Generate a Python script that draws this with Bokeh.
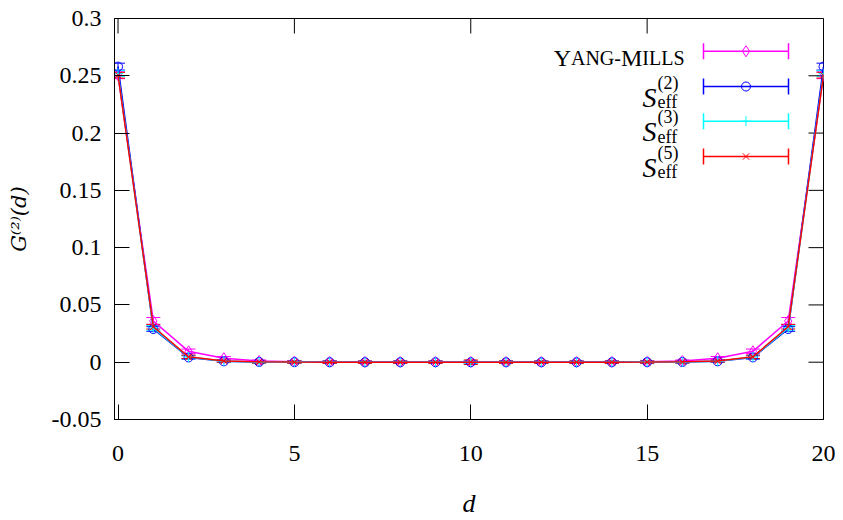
import math
from bokeh.plotting import figure
from bokeh.models import Range1d, FixedTicker, Label, Whisker, ColumnDataSource, TeeHead
from bokeh.embed import file_html
from bokeh.resources import INLINE

# ---------------- data ----------------
d = list(range(21))
ym = [0.2505, 0.0360, 0.0095, 0.0035, 0.0010, 0.0005, 0.0003, 0.0002, 0.0002, 0.0002, 0.0002,
      0.0002, 0.0002, 0.0002, 0.0002, 0.0003, 0.0010, 0.0035, 0.0095, 0.0360, 0.2505]
ym_err = [0.0030, 0.0030, 0.0020, 0.0015, 0.0010, 0.0010, 0.0010, 0.0010, 0.0010, 0.0010, 0.0010,
          0.0010, 0.0010, 0.0010, 0.0010, 0.0010, 0.0010, 0.0015, 0.0020, 0.0030, 0.0030]
s2 = [0.2580, 0.0290, 0.0042, 0.0008, 0.0002, 0.0001, 0.0000, 0.0000, 0.0000, 0.0000, 0.0000,
      0.0000, 0.0000, 0.0000, 0.0000, 0.0001, 0.0002, 0.0008, 0.0042, 0.0290, 0.2580]
s2_err = [0.0030, 0.0020, 0.0015, 0.0010, 0.0010, 0.0010, 0.0010, 0.0010, 0.0010, 0.0010, 0.0010,
          0.0010, 0.0010, 0.0010, 0.0010, 0.0010, 0.0010, 0.0010, 0.0015, 0.0020, 0.0030]
s3 = [0.2520, 0.0300, 0.0045, 0.0009, 0.0002, 0.0001, 0.0000, 0.0000, 0.0000, 0.0000, 0.0000,
      0.0000, 0.0000, 0.0000, 0.0000, 0.0001, 0.0002, 0.0009, 0.0045, 0.0300, 0.2520]
s3_err = [0.0025, 0.0020, 0.0015, 0.0010, 0.0010, 0.0010, 0.0010, 0.0010, 0.0010, 0.0010, 0.0010,
          0.0010, 0.0010, 0.0010, 0.0010, 0.0010, 0.0010, 0.0010, 0.0015, 0.0020, 0.0025]
s5 = [0.2505, 0.0310, 0.0047, 0.0010, 0.0003, 0.0001, 0.0000, 0.0000, 0.0000, 0.0000, 0.0000,
      0.0000, 0.0000, 0.0000, 0.0000, 0.0001, 0.0003, 0.0010, 0.0047, 0.0310, 0.2505]
s5_err = [0.0025, 0.0020, 0.0015, 0.0010, 0.0010, 0.0010, 0.0010, 0.0010, 0.0010, 0.0010, 0.0020,
          0.0010, 0.0010, 0.0010, 0.0010, 0.0010, 0.0010, 0.0010, 0.0015, 0.0020, 0.0025]

x_ticks = [0, 5, 10, 15, 20]
y_ticks = [-0.05, 0, 0.05, 0.1, 0.15, 0.2, 0.25, 0.3]
y_tick_labels = ["-0.05", "0", "0.05", "0.1", "0.15", "0.2", "0.25", "0.3"]
x_title = "d"
y_title = "G\u207d\u00b2\u207e(d)"

# ---------------- layout ----------------
W, H = 843, 520
FL, FR, FT, FB = 114, 823, 18, 419          # frame edges in canvas px
XR = (-0.1, 20.0)
YR = (-0.05, 0.3)
SERIF = "Liberation Serif"
TICK = 15

p = figure(width=W, height=H, output_backend="svg", toolbar_location=None,
           x_range=Range1d(*XR), y_range=Range1d(*YR),
           min_border_left=FL, min_border_right=W - FR,
           min_border_top=FT, min_border_bottom=H - FB)
p.background_fill_color = "white"
p.border_fill_color = "white"
p.outline_line_color = "black"
p.outline_line_width = 1
p.grid.visible = False

for ax in (p.xaxis[0], p.yaxis[0]):
    ax.major_tick_in = TICK
    ax.major_tick_out = 0
    ax.minor_tick_in = 0
    ax.minor_tick_out = 0
    ax.axis_line_color = "black"
    ax.major_tick_line_color = "black"
    ax.major_label_text_font = SERIF
    ax.major_label_text_font_size = "24px"
    ax.major_label_text_color = "black"
    ax.axis_label_text_font_style = "italic"
    ax.axis_label_text_color = "black"

p.xaxis.ticker = FixedTicker(ticks=x_ticks)
p.yaxis.ticker = FixedTicker(ticks=y_ticks)
p.yaxis.major_label_overrides = {t: s for t, s in zip(y_ticks, y_tick_labels)}
p.xaxis.major_label_standoff = 26
p.yaxis.major_label_standoff = 13
p.xaxis.axis_label = x_title
p.xaxis.axis_label_text_font = SERIF
p.xaxis.axis_label_text_font_size = "26px"
p.xaxis.axis_label_standoff = 25
p.yaxis.axis_label = y_title
p.yaxis.axis_label_text_font = "DejaVu Serif"
p.yaxis.axis_label_text_font_size = "21px"
p.yaxis.axis_label_standoff = 18

# px <-> data helpers (canvas px)
def px2x(wx):
    return XR[0] + (wx - FL) / (FR - FL) * (XR[1] - XR[0])

def px2y(wy):
    return YR[1] - (wy - FT) / (FB - FT) * (YR[1] - YR[0])

dx_tick = TICK / (FR - FL) * (XR[1] - XR[0])
dy_tick = TICK / (FB - FT) * (YR[1] - YR[0])

# mirrored ticks on top and right border
p.segment(x0=x_ticks, y0=[YR[1]] * len(x_ticks), x1=x_ticks, y1=[YR[1] - dy_tick] * len(x_ticks),
          line_color="black", line_width=1)
p.segment(x0=[XR[1]] * len(y_ticks), y0=y_ticks, x1=[XR[1] - dx_tick] * len(y_ticks), y1=y_ticks,
          line_color="black", line_width=1)

# ---------------- series ----------------
series = [
    (ym, ym_err, "#ff00ff", "diamond"),
    (s2, s2_err, "#0000ff", "circle"),
    (s3, s3_err, "#00ffff", "cross"),
    (s5, s5_err, "#ff0000", "x"),
]

MARK = {"diamond": 11, "circle": 9, "cross": 10, "x": 9}

def draw_marker(x, y, color, kind, src=None):
    kw = dict(marker=kind, size=MARK[kind], line_color=color, line_width=1, fill_color=None)
    if src is not None:
        kw["source"] = src
    return p.scatter(x, y, **kw)

for vals, errs, color, kind in series:
    src = ColumnDataSource(dict(d=d, v=vals,
                                lo=[v - e for v, e in zip(vals, errs)],
                                hi=[v + e for v, e in zip(vals, errs)]))
    p.line("d", "v", source=src, line_color=color, line_width=1.5)
    wk = Whisker(base="d", lower="lo", upper="hi", source=src, line_color=color, line_width=1,
                 upper_head=TeeHead(size=14, line_color=color, line_width=1),
                 lower_head=TeeHead(size=14, line_color=color, line_width=1))
    p.add_layout(wk)
    draw_marker("d", "v", color, kind, src)

# ---------------- legend (gnuplot style: text left, sample right) ----------------
row_y = [50.7, 86, 120.7, 156]
kx0, kx1, kxm = 703, 788, 745.5
for (vals, errs, color, kind), ry in zip(series, row_y):
    yy = px2y(ry)
    p.segment(px2x(kx0), yy, px2x(kx1), yy, line_color=color, line_width=1.5)
    for kx in (kx0, kx1):
        p.segment(px2x(kx), px2y(ry - 8), px2x(kx), px2y(ry + 8), line_color=color, line_width=1.5)
    draw_marker([px2x(kxm)], [yy], color, kind)

def lab(text, wx, wy, size, align="left", style="normal"):
    p.add_layout(Label(x=wx - FL, y=FB - wy, x_units="screen", y_units="screen", text=text,
                       text_font=SERIF, text_font_size=f"{size}px", text_font_style=style,
                       text_align=align, text_baseline="alphabetic", text_color="black"))

# Yang-Mills in small caps (built right to left)
BIG, SMALL = 24, 20
wtab = {"Y": 0.722, "A": 0.722, "N": 0.722, "G": 0.722, "-": 0.333, "M": 0.889,
        "I": 0.333, "L": 0.611, "S": 0.556}
def width(s, size):
    return sum(wtab[c] for c in s) * size
xr = 684
for txt, sz in [("ILLS", SMALL), ("M", BIG), ("ANG-", SMALL), ("Y", BIG)]:
    lab(txt, xr, 57, sz, align="right")
    xr -= width(txt, sz)

# S_eff^(k)
for k, ry in zip(["(2)", "(3)", "(5)"], row_y[1:]):
    lab("S", 656, ry + 10.5, 28, align="right", style="italic")
    lab(k, 657, ry - 4, 18)
    lab("eff", 657, ry + 15.5, 18)

html = file_html(p, INLINE)
open("out.html", "w").write(html)
